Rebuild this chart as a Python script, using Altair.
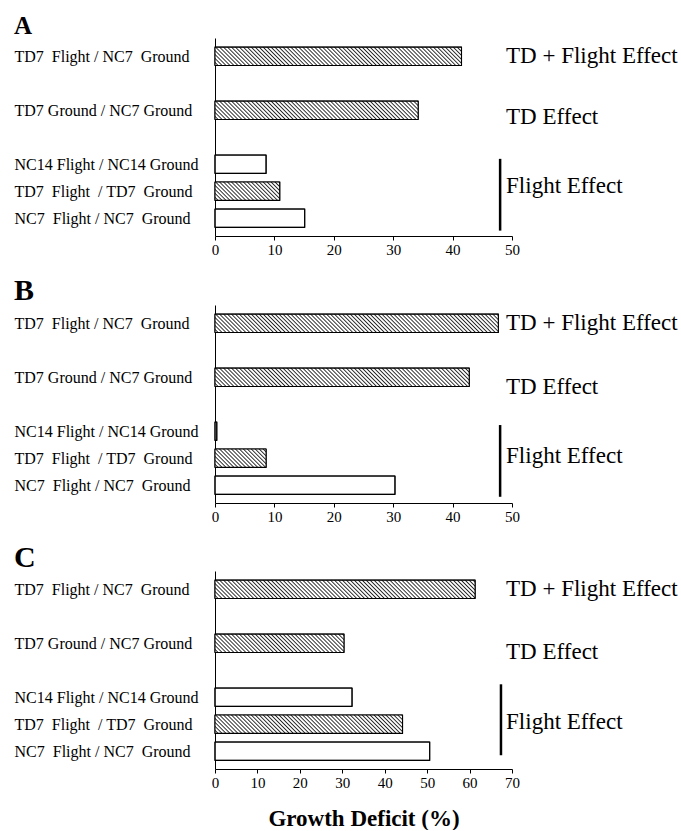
import base64
import json

import altair as alt
import pandas as pd

# ---------------- data ----------------
row_labels = [
    "TD7\u00a0 Flight / NC7\u00a0 Ground",
    "TD7 Ground / NC7 Ground",
    "NC14 Flight / NC14 Ground",
    "TD7\u00a0 Flight\u00a0 / TD7\u00a0 Ground",
    "NC7\u00a0 Flight / NC7\u00a0 Ground",
]
row_slots = [0, 2, 4, 5, 6]
row_hatched = [True, True, False, True, False]

values_a = [41.5, 34.2, 8.6, 10.9, 15.1]
values_b = [47.7, 42.8, 0.3, 8.6, 30.3]
values_c = [61.3, 30.4, 32.3, 44.2, 50.6]

panel_letters = ["A", "B", "C"]
axis_max = [50, 50, 70]

effect_labels = ["TD + Flight Effect", "TD Effect", "Flight Effect"]
effect_slots = [[0.0, 2.25, 4.8], [0.0, 2.35, 4.93], [0.0, 2.33, 4.93]]
effect_x = [49.0, 49.0, 68.6]

bracket_x = [48.0, 48.0, 67.4]
bracket_top = [3.8, 3.77, 3.52]
bracket_bottom = [6.46, 6.43, 6.15]

x_title = "Growth Deficit (%)"

# ---------------- style ----------------
FONT = "Liberation Serif"
W, H = 297, 198
Y_DOMAIN = [-0.68, 6.66]

hatch_svg = (
    "<svg xmlns='http://www.w3.org/2000/svg' width='100%' height='100%'>"
    "<defs><pattern id='p' width='2.8' height='2.8' patternUnits='userSpaceOnUse' "
    "patternTransform='rotate(-45)'>"
    "<rect width='2.8' height='2.8' fill='white'/>"
    "<rect width='0.85' height='2.8' fill='#111'/></pattern></defs>"
    "<rect width='100%' height='100%' fill='url(#p)'/></svg>"
)
hatch_url = "data:image/svg+xml;base64," + base64.b64encode(hatch_svg.encode()).decode()

label_expr = ""
for s, lab in zip(row_slots, row_labels):
    label_expr += f"datum.value == {s} ? {json.dumps(lab, ensure_ascii=False)} : "
label_expr += "''"


def make_panel(i, values, title_size, title_offset):
    xmax = axis_max[i]
    bars = pd.DataFrame(
        {"label": row_labels, "slot": row_slots, "hatched": row_hatched, "value": values}
    )
    eff = pd.DataFrame(
        {"text": effect_labels, "slot": effect_slots[i], "ex": [effect_x[i]] * 3}
    )
    br = pd.DataFrame(
        {"bx": [bracket_x[i]], "top": [bracket_top[i]], "bottom": [bracket_bottom[i]]}
    )

    x_axis_kw = dict(
        values=list(range(0, xmax + 1, 10)),
        tickSize=4,
        labelPadding=2,
        labelFontSize=15,
        labelFlush=False,
        grid=False,
    )
    if i == 2:
        x_axis_kw.update(
            titleFontSize=23, titleFontWeight="bold", titlePadding=17, titleFont=FONT
        )
    x_axis = alt.Axis(**x_axis_kw)
    x_scale = alt.Scale(domain=[0, xmax], nice=False, zero=True)
    x_ttl = x_title if i == 2 else None

    y_axis = alt.Axis(
        values=row_slots,
        labelExpr=label_expr,
        ticks=False,
        tickSize=0,
        labelAlign="left",
        labelBaseline="middle",
        labelPadding=201,
        labelFontSize=16,
        labelLimit=400,
        labelOverlap=False,
        grid=False,
    )
    y_scale = alt.Scale(domain=Y_DOMAIN, reverse=True, nice=False, zero=False)

    base = alt.Chart(bars).transform_calculate(
        y0="datum.slot - 0.34", y1="datum.slot + 0.34"
    )

    bar_fill = base.mark_rect(stroke="black", strokeWidth=1).encode(
        x=alt.X("value:Q", scale=x_scale, axis=x_axis, title=x_ttl),
        x2=alt.datum(0),
        y=alt.Y("y0:Q", scale=y_scale, axis=y_axis, title=None),
        y2="y1:Q",
        fill=alt.condition("datum.hatched", alt.value("#b0b0b0"), alt.value("white")),
    )
    hatch = base.transform_filter("datum.hatched").mark_image(aspect=False).encode(
        x=alt.X("value:Q", scale=x_scale, axis=x_axis, title=x_ttl),
        x2=alt.datum(0),
        y=alt.Y("y0:Q", scale=y_scale, axis=y_axis, title=None),
        y2="y1:Q",
        url=alt.value(hatch_url),
    )
    outline = base.mark_rect(
        fill="white", fillOpacity=0, stroke="black", strokeWidth=1.1
    ).encode(
        x=alt.X("value:Q", scale=x_scale, axis=x_axis, title=x_ttl),
        x2=alt.datum(0),
        y=alt.Y("y0:Q", scale=y_scale, axis=y_axis, title=None),
        y2="y1:Q",
    )
    rule = alt.Chart(br).mark_rule(color="black", strokeWidth=2.5).encode(
        x=alt.X("bx:Q", scale=x_scale, axis=x_axis, title=x_ttl),
        y=alt.Y("top:Q", scale=y_scale, axis=y_axis, title=None),
        y2="bottom:Q",
    )
    text = alt.Chart(eff).mark_text(
        align="left", baseline="middle", font=FONT, fontSize=23, color="black"
    ).encode(
        x=alt.X("ex:Q", scale=x_scale, axis=x_axis, title=x_ttl),
        y=alt.Y("slot:Q", scale=y_scale, axis=y_axis, title=None),
        text="text:N",
    )
    return alt.layer(bar_fill, hatch, outline, rule, text).properties(
        width=W,
        height=H,
        title=alt.TitleParams(
            text=panel_letters[i],
            anchor="start",
            frame="bounds",
            font=FONT,
            fontSize=title_size,
            fontWeight="bold",
            color="black",
            baseline="alphabetic",
            offset=title_offset,
        ),
    )


pa = make_panel(0, values_a, 25, -21)
pb = make_panel(1, values_b, 30, -24.5)
pc = make_panel(2, values_c, 30, -25.5)

chart = (
    alt.vconcat(pa, pb, pc, spacing=18)
    .properties(padding={"left": 14, "top": 14, "right": 0, "bottom": 0}, background="white")
    .configure_view(stroke=None)
    .configure_axis(
        domainColor="black",
        tickColor="black",
        labelColor="black",
        titleColor="black",
        labelFont=FONT,
        titleFont=FONT,
        domainWidth=1,
        tickWidth=1,
    )
)

chart.save("out.html", embed_options={"renderer": "svg", "actions": False})
